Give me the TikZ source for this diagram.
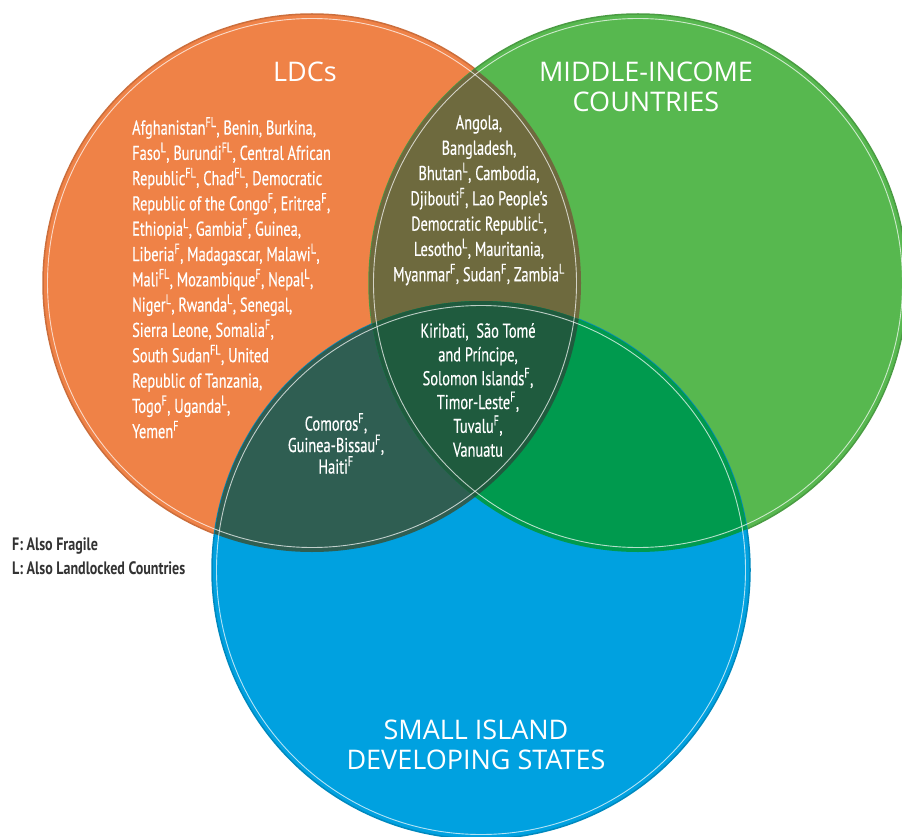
\documentclass[tikz,border=0pt]{standalone}
\usepackage{fontspec}
\setmainfont{PT Sans}
\newfontfamily\listfont[FakeStretch=0.72, FakeBold=0.4]{PT Sans}
\newfontfamily\keyfont[FakeStretch=0.78]{PT Sans}
\newfontfamily\titlefont{Open Sans}
\definecolor{ldcorange}{HTML}{EF8247}
\definecolor{micgreen}{HTML}{57B84F}
\definecolor{sidsblue}{HTML}{00A1E0}
\definecolor{ldcmic}{HTML}{6E6A3E}
\definecolor{ldcsids}{HTML}{2F5E52}
\definecolor{micsids}{HTML}{009A4E}
\definecolor{allthree}{HTML}{1F5B3E}
\definecolor{keygray}{HTML}{333333}
\usetikzlibrary{positioning}
\newcommand{\fsup}{\textsuperscript{F}}
\newcommand{\lsup}{\textsuperscript{L}}
\newcommand{\flsup}{\textsuperscript{FL}}

\begin{document}
\begin{tikzpicture}[x=1pt, y=-1pt,
    listtext/.style={text=white, inner sep=0pt, font=\listfont\fontsize{20}{25.3}\selectfont},
    titletext/.style={text=white, inner sep=0pt, align=center, font=\titlefont\fontsize{27}{30}\selectfont},
    ring/.style={draw=white, draw opacity=0.7, line width=0.9pt}]
    \def \radius {269pt}
    \def \inset {264.5pt}

    \useasboundingbox (0,0) rectangle (902,837);

    \coordinate (ldc) at (312,283);
    \coordinate (mic) at (638,283);
    \coordinate (sids) at (481,570);

    %% the three sets
    \fill[ldcorange, draw=ldcorange!85!black, line width=1.5pt] (ldc) circle (\radius);
    \fill[micgreen, draw=micgreen!85!black, line width=1.5pt] (mic) circle (\radius);
    \fill[sidsblue, draw=sidsblue!85!black, line width=1.5pt] (sids) circle (\radius);

    %% overlaps
    \begin{scope}
        \clip (ldc) circle (\radius);
        \fill[ldcmic] (mic) circle (\radius);
        \fill[ldcsids] (sids) circle (\radius);
    \end{scope}
    \begin{scope}
        \clip (mic) circle (\radius);
        \fill[micsids] (sids) circle (\radius);
        \clip (ldc) circle (\radius);
        \fill[allthree] (sids) circle (\radius);
    \end{scope}

    \draw[ring] (ldc) circle (\inset);
    \draw[ring] (mic) circle (\inset);
    \draw[ring] (sids) circle (\inset);

    %%%%%%%%%%%%%%%%%%%%%%%%%%%%%%%%

    \node[titletext, anchor=base] (ldctitle) at (305,82) {LDCs};
    \node[titletext, anchor=north] (mictitle) at (646,62) {MIDDLE-INCOME\\COUNTRIES};
    \node[titletext, anchor=north] (sidstitle) at (476,720) {SMALL ISLAND\\DEVELOPING STATES};

    \node[listtext, align=left, anchor=north west] (ldclist) at (132,117) {%
        Afghanistan\flsup, Benin, Burkina,\\
        Faso\lsup, Burundi\flsup, Central African\\
        Republic\flsup, Chad\flsup, Democratic\\
        Republic of the Congo\fsup, Eritrea\fsup,\\
        Ethiopia\lsup, Gambia\fsup, Guinea,\\
        Liberia\fsup, Madagascar, Malawi\lsup,\\
        Mali\flsup, Mozambique\fsup, Nepal\lsup,\\
        Niger\lsup, Rwanda\lsup, Senegal,\\
        Sierra Leone, Somalia\fsup,\\
        South Sudan\flsup, United\\
        Republic of Tanzania,\\
        Togo\fsup, Uganda\lsup,\\
        Yemen\fsup};

    \node[listtext, align=center, anchor=north] (ldcmiclist) at (479,115) {%
        Angola,\\
        Bangladesh,\\
        Bhutan\lsup, Cambodia,\\
        Djibouti\fsup, Lao People’s\\
        Democratic Republic\lsup,\\
        Lesotho\lsup, Mauritania,\\
        Myanmar\fsup, Sudan\fsup, Zambia\lsup};

    \node[listtext, align=center, anchor=north, font=\listfont\fontsize{20}{23.8}\selectfont] (alllist) at (478,323) {%
        Kiribati,~ São Tomé\\
        and Príncipe,\\
        Solomon Islands\fsup,\\
        Timor-Leste\fsup,\\
        Tuvalu\fsup,\\
        Vanuatu};

    \node[listtext, align=center, anchor=north, font=\listfont\fontsize{20}{21.5}\selectfont] (ldcsidslist) at (336,413) {%
        Comoros\fsup,\\
        Guinea-Bissau\fsup,\\
        Haiti\fsup};

    %% key
    \node[inner sep=0pt, align=left, anchor=north west, text=keygray, font=\keyfont\bfseries\fontsize{18}{24}\selectfont] (key) at (12,537) {%
        F: Also Fragile\\
        L: Also Landlocked Countries};

\end{tikzpicture}
\end{document}
